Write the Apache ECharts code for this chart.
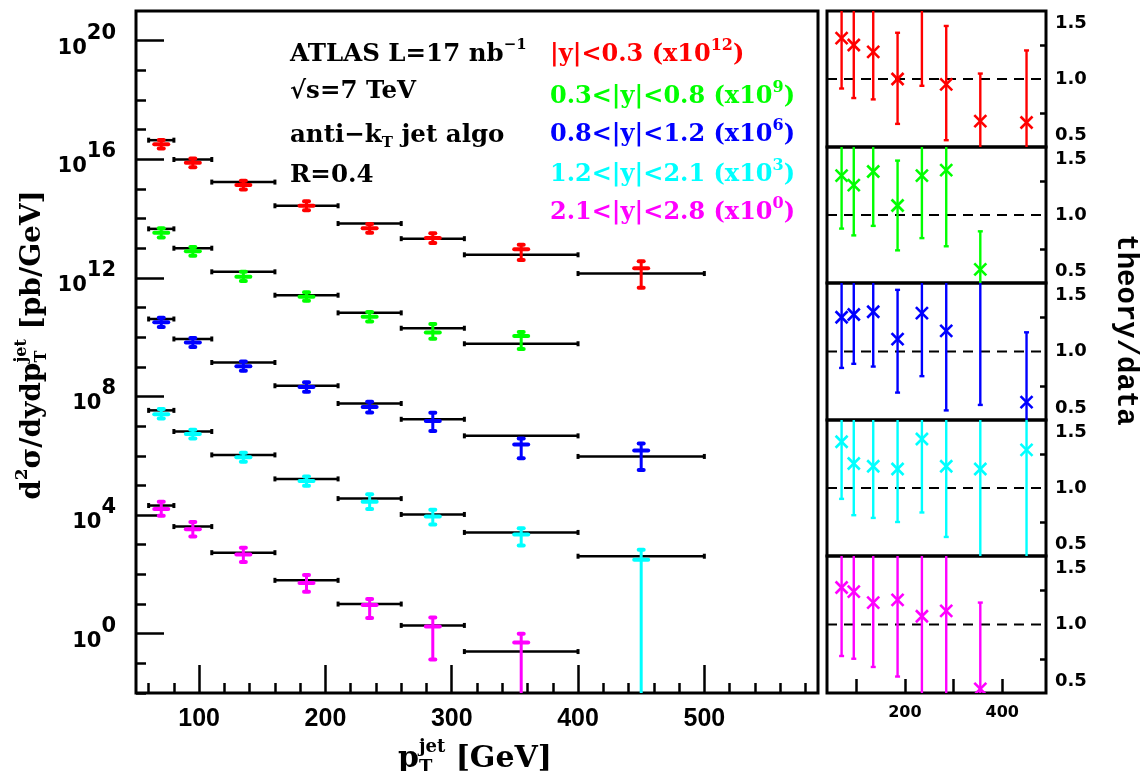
<!DOCTYPE html>
<html><head><meta charset="utf-8">
<script src="https://cdn.jsdelivr.net/npm/echarts@6/dist/echarts.min.js"></script>
<style>html,body{margin:0;padding:0;background:#fff}#c{width:1141px;height:771px}</style>
</head><body><div id="c"></div><script>
// ---------- data ----------
const ptCenter = [70, 95, 135, 185, 235, 285, 355, 450];
const binLo = [60, 80, 110, 160, 210, 260, 310, 400];
const binHi = [80, 110, 160, 210, 260, 310, 400, 500];

const rapLabels = ['|y|<0.3', '0.3<|y|<0.8', '0.8<|y|<1.2', '1.2<|y|<2.1', '2.1<|y|<2.8'];
const scaleExp = ['12', '9', '6', '3', '0'];
const colors = ['#ff0000', '#00ff00', '#0000ff', '#00ffff', '#ff00ff'];

// cross sections (scaled), data points with errors, and theory
const redData = [3.2e16, 7.6e15, 1.35e15, 2.7e14, 4.7e13, 2.2e13, 9.3e12, 2.1e12];
const redLo = [2.3e16, 5.4e15, 9.6e14, 1.9e14, 3.3e13, 1.5e13, 4.0e12, 4.6e11];
const redHi = [4.5e16, 1.07e16, 1.9e15, 3.8e14, 6.6e13, 3.2e13, 1.3e13, 3.6e12];
const redTheory = [4.4e16, 9.8e15, 1.7e15, 2.7e14, 6.8e13, 2.1e13, 6.0e12, 1.4e12];

const greenData = [3.3e13, 7.9e12, 1.1e12, 2.3e11, 4.9e10, 1.45e10, 1.1e10];
const greenLo = [2.3e13, 5.6e12, 7.9e11, 1.7e11, 3.4e10, 8.9e9, 4.0e9];
const greenHi = [4.7e13, 1.1e13, 1.6e12, 3.3e11, 7.1e10, 2.8e10, 1.5e10];
const greenTheory = [4.5e13, 1.0e13, 1.6e12, 2.6e11, 6.6e10, 2.0e10, 6.0e9];

const blueData = [3.2e10, 6.6e9, 1.05e9, 2.1e8, 4.4e7, 1.5e7, 2.4e6, 1.5e6];
const blueLo = [2.2e10, 4.7e9, 7.4e8, 1.45e8, 2.9e7, 6.9e6, 8.3e5, 3.3e5];
const blueHi = [4.5e10, 9.3e9, 1.5e9, 3.0e8, 6.6e7, 2.8e7, 3.8e6, 2.6e6];
const blueTheory = [4.1e10, 8.7e9, 1.4e9, 2.3e8, 5.8e7, 1.7e7, 4.7e6, 9.5e5];

const cyanData = [2.5e7, 5.4e6, 8.9e5, 1.4e5, 2.8e4, 9.0e3, 2.2e3, 3.1e2];
const cyanLo = [1.8e7, 3.8e6, 6.3e5, 9.8e4, 1.6e4, 4.8e3, 9.5e2, 1e-5];
const cyanHi = [3.8e7, 7.6e6, 1.26e6, 2.0e5, 5.0e4, 1.5e4, 3.6e3, 6.8e2];
const cyanTheory = [3.4e7, 6.6e6, 1.07e6, 1.66e5, 3.6e4, 1.05e4, 2.6e3, 4.1e2];

const magData = [1.6e4, 3.3e3, 4.7e2, 51, 9.3, 1.75, 0.5];
const magLo = [9.5e3, 1.9e3, 2.6e2, 26, 3.4, 0.135, 1e-5];
const magHi = [2.8e4, 5.9e3, 7.9e2, 95, 14.8, 3.5, 1.0];
const magTheory = [2.1e4, 4.1e3, 5.4e2, 63, 10, 1.9, 0.25];

// theory / data ratios
const redRatio = [1.30, 1.25, 1.20, 1.00, 1.62, 0.96, 0.69, 0.68];
const redRatioLo = [0.93, 0.86, 0.85, 0.67, 0.95, 0.55, 0.30, 0.30];
const redRatioHi = [1.75, 1.75, 1.75, 1.34, 1.75, 1.39, 1.04, 1.21];

const greenRatio = [1.29, 1.22, 1.32, 1.07, 1.29, 1.33, 0.60];
const greenRatioLo = [0.90, 0.85, 0.92, 0.74, 0.83, 0.77, 0.30];
const greenRatioHi = [1.75, 1.75, 1.75, 1.40, 1.75, 1.75, 0.88];

const blueRatio = [1.25, 1.27, 1.29, 1.09, 1.28, 1.15, 1.80, 0.63];
const blueRatioLo = [0.88, 0.91, 0.89, 0.70, 0.82, 0.57, 0.61, 0.30];
const blueRatioHi = [1.75, 1.75, 1.75, 1.45, 1.75, 1.75, 2.20, 1.14];

const cyanRatio = [1.34, 1.18, 1.16, 1.14, 1.36, 1.16, 1.14, 1.28];
const cyanRatioLo = [0.92, 0.80, 0.78, 0.75, 0.82, 0.64, 0.30, 0.30];
const cyanRatioHi = [1.75, 1.75, 1.75, 1.75, 1.75, 1.75, 1.75, 1.75];

const magRatio = [1.27, 1.24, 1.16, 1.18, 1.06, 1.10, 0.53];
const magRatioLo = [0.77, 0.75, 0.69, 0.62, 0.30, 0.30, 0.30];
const magRatioHi = [1.75, 1.75, 1.75, 1.75, 1.75, 1.75, 1.16];

// tick values
const yMinorTicks = [1e-2,1e-1,1e0,1e1,1e2,1e3,1e4,1e5,1e6,1e7,1e8,1e9,1e10,1e11,1e12,1e13,1e14,1e15,1e16,1e17,1e18,1e19,1e20,1e21];
const yMajorTicks = [1e0, 1e4, 1e8, 1e12, 1e16, 1e20];
const xMinorTicks = [60,80,100,120,140,160,180,200,220,240,260,280,300,320,340,360,380,400,420,440,460,480,500,520,540,560,580];
const xMajorTicks = [100, 200, 300, 400, 500];
const rXTicks = [100, 200, 300, 400];
const rXLabels = [200, 400];
const rYTicks = [0.75, 1.25];
const rYLabels = [0.5, 1.0, 1.5];

const sets = [
  {data: redData, lo: redLo, hi: redHi, th: redTheory, r: redRatio, rlo: redRatioLo, rhi: redRatioHi},
  {data: greenData, lo: greenLo, hi: greenHi, th: greenTheory, r: greenRatio, rlo: greenRatioLo, rhi: greenRatioHi},
  {data: blueData, lo: blueLo, hi: blueHi, th: blueTheory, r: blueRatio, rlo: blueRatioLo, rhi: blueRatioHi},
  {data: cyanData, lo: cyanLo, hi: cyanHi, th: cyanTheory, r: cyanRatio, rlo: cyanRatioLo, rhi: cyanRatioHi},
  {data: magData, lo: magLo, hi: magHi, th: magTheory, r: magRatio, rlo: magRatioLo, rhi: magRatioHi}
];

// ---------- helpers ----------
const SERIF = 'DejaVu Serif';
const mctx = document.createElement('canvas').getContext('2d');
function F(size, family, weight) { return {size: size, family: family || SERIF, weight: weight || 'bold'}; }
function fontStr(f) { return f.weight + ' ' + f.size + 'px "' + f.family + '"'; }
function measure(t, f) { mctx.font = fontStr(f); return mctx.measureText(t).width; }
function richRow(parts, fill) {
  let x = 0; const els = [];
  const put = (p, x0) => els.push({type: 'text', x: x0, y: p.dy || 0,
    style: {text: p.t, font: fontStr(p.f), fill: fill, align: 'left', verticalAlign: 'middle'}});
  for (const p of parts) {
    if (p.stack) {
      let w = 0;
      for (const q of p.stack) { put(q, x); w = Math.max(w, measure(q.t, q.f)); }
      x += w;
    } else { put(p, x); x += measure(p.t, p.f); }
  }
  return {els: els, width: x};
}
function textGroup(parts, fill, x, y, opts) {
  opts = opts || {};
  const r = richRow(parts, fill);
  const shift = opts.center ? -r.width / 2 : 0;
  r.els.forEach(e => { e.x += shift; });
  return {type: 'group', x: x, y: y, rotation: opts.rotation || 0, children: r.els};
}

// ---------- series ----------
const series = [];
sets.forEach((s, k) => {
  // theory bin lines
  series.push({
    type: 'custom', xAxisIndex: 0, yAxisIndex: 0, clip: true, z: 2,
    data: s.th.map((v, i) => [binLo[i], binHi[i], v]),
    encode: {x: [0, 1], y: 2},
    renderItem: function (params, api) {
      const a = api.coord([api.value(0), api.value(2)]);
      const b = api.coord([api.value(1), api.value(2)]);
      const st = {stroke: '#000', lineWidth: 2.5};
      return {type: 'group', children: [
        {type: 'line', shape: {x1: a[0], y1: a[1], x2: b[0], y2: b[1]}, style: st},
        {type: 'line', shape: {x1: a[0], y1: a[1] - 2.5, x2: a[0], y2: a[1] + 2.5}, style: {stroke: '#000', lineWidth: 3}},
        {type: 'line', shape: {x1: b[0], y1: b[1] - 2.5, x2: b[0], y2: b[1] + 2.5}, style: {stroke: '#000', lineWidth: 3}}
      ]};
    }
  });
});
sets.forEach((s, k) => {
  const col = colors[k];
  series.push({
    type: 'custom', xAxisIndex: 0, yAxisIndex: 0, clip: true, z: 3,
    data: s.data.map((v, i) => [ptCenter[i], v, s.lo[i], s.hi[i]]),
    encode: {x: 0, y: [1, 2, 3]},
    renderItem: function (params, api) {
      const c = api.coord([api.value(0), api.value(1)]);
      const l = api.coord([api.value(0), api.value(2)]);
      const h = api.coord([api.value(0), api.value(3)]);
      const st = {stroke: col, lineWidth: 3, lineCap: 'round'};
      const cap = {stroke: col, lineWidth: 4, lineCap: 'round'};
      return {type: 'group', children: [
        {type: 'line', shape: {x1: c[0], y1: h[1], x2: c[0], y2: l[1]}, style: st},
        {type: 'line', shape: {x1: c[0] - 2.5, y1: h[1], x2: c[0] + 2.5, y2: h[1]}, style: cap},
        {type: 'line', shape: {x1: c[0] - 2.5, y1: l[1], x2: c[0] + 2.5, y2: l[1]}, style: cap},
        {type: 'line', shape: {x1: c[0] - 7, y1: c[1], x2: c[0] + 7, y2: c[1]}, style: {stroke: col, lineWidth: 4, lineCap: 'round'}}
      ]};
    }
  });
});
// ratio panels
sets.forEach((s, k) => {
  const col = colors[k];
  series.push({
    type: 'line', xAxisIndex: 2 + k, yAxisIndex: 2 + k, z: 2,
    data: [[40, 1], [490, 1]], symbol: 'none', silent: true,
    lineStyle: {color: '#000', width: 2, type: [10, 7]}
  });
  series.push({
    type: 'custom', xAxisIndex: 2 + k, yAxisIndex: 2 + k, clip: true, z: 3,
    data: s.r.map((v, i) => [ptCenter[i], v, s.rlo[i], s.rhi[i]]),
    encode: {x: 0, y: [1, 2, 3]},
    renderItem: function (params, api) {
      const c = api.coord([api.value(0), api.value(1)]);
      const l = api.coord([api.value(0), api.value(2)]);
      const h = api.coord([api.value(0), api.value(3)]);
      const st = {stroke: col, lineWidth: 2.4};
      const m = 6;
      return {type: 'group', children: [
        {type: 'line', shape: {x1: c[0], y1: h[1], x2: c[0], y2: l[1]}, style: st},
        {type: 'line', shape: {x1: c[0] - 2.5, y1: h[1], x2: c[0] + 2.5, y2: h[1]}, style: st},
        {type: 'line', shape: {x1: c[0] - 2.5, y1: l[1], x2: c[0] + 2.5, y2: l[1]}, style: st},
        {type: 'line', shape: {x1: c[0] - m, y1: c[1] - m, x2: c[0] + m, y2: c[1] + m}, style: {stroke: col, lineWidth: 2.6}},
        {type: 'line', shape: {x1: c[0] - m, y1: c[1] + m, x2: c[0] + m, y2: c[1] - m}, style: {stroke: col, lineWidth: 2.6}}
      ]};
    }
  });
});

// ---------- axes & grids ----------
const gridStyle = {show: true, borderColor: '#000', borderWidth: 3, backgroundColor: 'transparent', containLabel: false};
const grids = [Object.assign({left: 136, top: 11, width: 682, height: 682}, gridStyle)];
const rTops = [11, 147, 283, 420, 556];
rTops.forEach((t, i) => grids.push(Object.assign({left: 827, top: t, width: 219, height: (i < 4 ? rTops[i + 1] : 693) - t}, gridStyle)));

const tickLine = {color: '#000', width: 2.5};
const xAxes = [
  {type: 'value', gridIndex: 0, position: 'bottom', min: 50, max: 590,
   axisLine: {show: false}, splitLine: {show: false},
   axisTick: {show: true, inside: true, length: 10, lineStyle: tickLine, customValues: xMinorTicks},
   axisLabel: {show: true, customValues: xMajorTicks, margin: 14, color: '#000',
     fontFamily: 'Liberation Sans', fontWeight: 'bold', fontSize: 25}},
  {type: 'value', gridIndex: 0, position: 'bottom', min: 50, max: 590,
   axisLine: {show: false}, splitLine: {show: false}, axisLabel: {show: false},
   axisTick: {show: true, inside: true, length: 28, lineStyle: tickLine, customValues: xMajorTicks}}
];
const yAxes = [
  {type: 'log', logBase: 10, gridIndex: 0, position: 'left', min: 1e-2, max: 1e21,
   axisLine: {show: false}, splitLine: {show: false},
   axisTick: {show: true, inside: true, length: 10, lineStyle: tickLine, customValues: yMinorTicks},
   axisLabel: {show: true, customValues: yMajorTicks, margin: 20,
     formatter: v => '{b|10}{s|' + Math.round(Math.log10(v)) + '}',
     rich: {
       b: {fontFamily: 'DejaVu Sans', fontWeight: 'bold', fontSize: 21, color: '#000', lineHeight: 36, verticalAlign: 'bottom'},
       s: {fontFamily: 'DejaVu Sans', fontWeight: 'bold', fontSize: 21, color: '#000', lineHeight: 18, verticalAlign: 'top'}
     }}},
  {type: 'log', logBase: 10, gridIndex: 0, position: 'left', min: 1e-2, max: 1e21,
   axisLine: {show: false}, splitLine: {show: false}, axisLabel: {show: false},
   axisTick: {show: true, inside: true, length: 28, lineStyle: tickLine, customValues: yMajorTicks}}
];
for (let k = 0; k < 5; k++) {
  const last = k === 4;
  xAxes.push({type: 'value', gridIndex: 1 + k, position: 'bottom', min: 40, max: 490,
    axisLine: {show: false}, splitLine: {show: false},
    axisTick: {show: last, inside: true, length: 14, lineStyle: tickLine, customValues: rXTicks},
    axisLabel: {show: last, customValues: rXLabels, margin: 12, color: '#000',
      fontFamily: 'DejaVu Sans', fontWeight: 'bold', fontSize: 16}});
  yAxes.push({type: 'value', gridIndex: 1 + k, position: 'right', min: 0.5, max: 1.5,
    axisLine: {show: false}, splitLine: {show: false},
    axisTick: {show: true, inside: true, length: 6, lineStyle: tickLine, customValues: rYTicks},
    axisLabel: {show: true, customValues: rYLabels, margin: 9, color: '#000',
      fontFamily: 'DejaVu Sans', fontWeight: 'bold', fontSize: 18, lineHeight: 24,
      verticalAlignMinLabel: 'bottom', verticalAlignMaxLabel: 'top',
      formatter: v => v.toFixed(1)}});
}

// ---------- text ----------
const graphics = [];
graphics.push(textGroup([{t: 'ATLAS L=17 nb', f: F(24.5)}, {t: '−1', f: F(15), dy: -10}], '#000', 290, 55));
graphics.push(textGroup([{t: '√s=7 TeV', f: F(24.5)}], '#000', 290, 92));
graphics.push(textGroup([{t: 'anti−k', f: F(24.5)}, {t: 'T', f: F(15), dy: 7}, {t: ' jet algo', f: F(24.5)}], '#000', 290, 136));
graphics.push(textGroup([{t: 'R=0.4', f: F(24.5)}], '#000', 290, 176));
const legY = [55, 97, 135, 175, 213];
rapLabels.forEach((lab, k) => {
  graphics.push(textGroup([{t: lab + ' (x10', f: F(24)}, {t: scaleExp[k], f: F(16), dy: -9}, {t: ')', f: F(24)}],
    colors[k], 550, legY[k]));
});
// y title
graphics.push(textGroup([
  {t: 'd', f: F(28)}, {t: '2', f: F(17), dy: -10}, {t: 'σ/dydp', f: F(28)},
  {stack: [{t: 'jet', f: F(16), dy: -11}, {t: 'T', f: F(16), dy: 9}]},
  {t: ' [pb/GeV]', f: F(28)}
], '#000', 33, 345, {center: true, rotation: Math.PI / 2}));
// x title
graphics.push(textGroup([
  {t: 'p', f: F(30)},
  {stack: [{t: 'jet', f: F(18), dy: -12}, {t: 'T', f: F(18), dy: 9}]},
  {t: ' [GeV]', f: F(30)}
], '#000', 475, 759, {center: true}));
// ratio title
graphics.push(textGroup([{t: 'theory/data', f: F(29, 'Liberation Mono', 'bold')}], '#000', 1125, 330,
  {center: true, rotation: -Math.PI / 2}));

const chart = echarts.init(document.getElementById('c'), null, {renderer: 'canvas'});
chart.setOption({
  animation: false,
  backgroundColor: '#fff',
  grid: grids,
  xAxis: xAxes,
  yAxis: yAxes,
  series: series,
  graphic: {elements: graphics}
});
</script></body></html>
